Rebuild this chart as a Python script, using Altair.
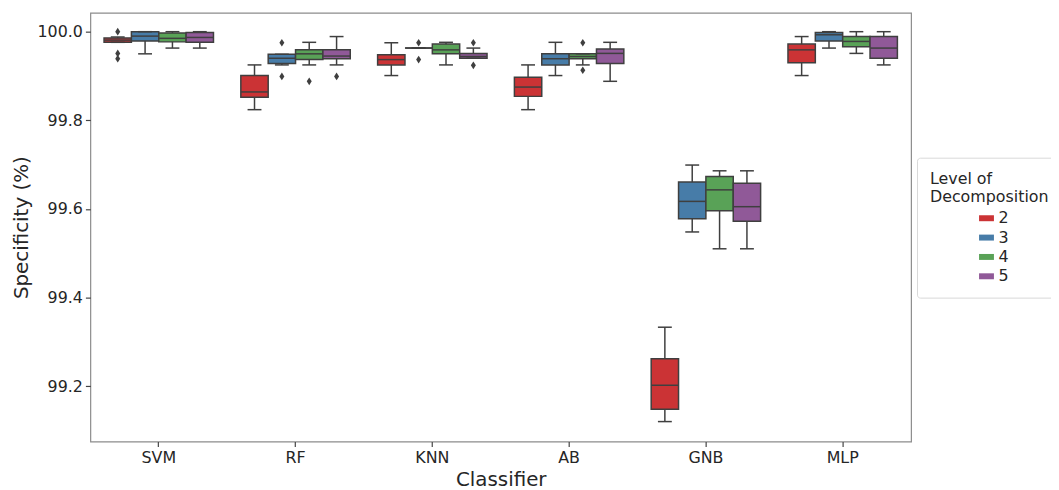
import altair as alt
import pandas as pd

classifiers = ["SVM", "RF", "KNN", "AB", "GNB", "MLP"]
levels = ["2", "3", "4", "5"]
colors = ["#cb3335", "#477ca8", "#59a257", "#905998"]

# box statistics, per classifier, levels 2..5
lower_whisker = [99.976, 99.950, 99.963, 99.963,
                 99.824, 99.925, 99.925, 99.925,
                 99.901, 99.963, 99.925, 99.940,
                 99.824, 99.901, 99.925, 99.888,
                 99.120, 99.548, 99.510, 99.510,
                 99.901, 99.963, 99.951, 99.925]
q1 = [99.976, 99.979, 99.977, 99.976,
      99.852, 99.928, 99.937, 99.939,
      99.925, 99.963, 99.950, 99.940,
      99.854, 99.925, 99.939, 99.928,
      99.148, 99.578, 99.596, 99.572,
      99.930, 99.979, 99.966, 99.940]
median = [99.981, 99.990, 99.985, 99.987,
          99.864, 99.940, 99.950, 99.945,
          99.937, 99.963, 99.959, 99.944,
          99.875, 99.939, 99.944, 99.951,
          99.202, 99.617, 99.643, 99.605,
          99.959, 99.993, 99.978, 99.963]
q3 = [99.986, 100.000, 99.997, 99.998,
      99.901, 99.949, 99.959, 99.959,
      99.948, 99.963, 99.972, 99.951,
      99.897, 99.950, 99.950, 99.961,
      99.262, 99.661, 99.673, 99.658,
      99.972, 99.998, 99.989, 99.989]
upper_whisker = [99.988, 100.000, 100.000, 100.000,
                 99.925, 99.949, 99.976, 99.989,
                 99.975, 99.963, 99.976, 99.963,
                 99.925, 99.976, 99.950, 99.976,
                 99.333, 99.699, 99.686, 99.686,
                 99.989, 100.000, 100.000, 100.000]

# outliers
out_clf = ["SVM", "SVM", "SVM", "RF", "RF", "RF", "RF", "KNN", "KNN", "KNN", "KNN", "AB", "AB"]
out_level = ["2", "2", "2", "3", "3", "4", "5", "3", "3", "5", "5", "4", "4"]
out_val = [100.000, 99.951, 99.939, 99.975, 99.899, 99.888, 99.899,
           99.975, 99.937, 99.975, 99.924, 99.975, 99.913]

clf_col = [c for c in classifiers for _ in levels]
lvl_col = [l for _ in classifiers for l in levels]
stats = pd.DataFrame({"clf": clf_col, "level": lvl_col, "lw": lower_whisker,
                      "q1": q1, "med": median, "q3": q3, "uw": upper_whisker})
outs = pd.DataFrame({"clf": out_clf, "level": out_level, "val": out_val})

EDGE = "#3f3f3f"
FONT = "DejaVu Sans"

x_enc = alt.X("clf:N", sort=classifiers,
              scale=alt.Scale(paddingInner=0.2, paddingOuter=0.1),
              axis=alt.Axis(title="Classifier", labelAngle=0))
xo_enc = alt.XOffset("level:N", sort=levels,
                     scale=alt.Scale(paddingInner=0, paddingOuter=0))
yscale = alt.Scale(domain=[99.075, 100.0426], nice=False, zero=False)
y_axis = alt.Axis(title="Specificity (%)", values=[99.2, 99.4, 99.6, 99.8, 100.0],
                  format=".1f")

base = alt.Chart(stats)

whisk = base.mark_rule(color=EDGE, strokeWidth=1.5).encode(
    x=x_enc, xOffset=xo_enc,
    y=alt.Y("lw:Q", scale=yscale, axis=y_axis), y2="uw:Q")

box = base.mark_bar(stroke=EDGE, strokeWidth=1.5, opacity=1).encode(
    x=x_enc, xOffset=xo_enc,
    y=alt.Y("q1:Q", scale=yscale), y2="q3:Q",
    color=alt.Color("level:N", sort=levels,
                    scale=alt.Scale(domain=levels, range=colors),
                    legend=alt.Legend(title=["Level of", "Decomposition"])))

med = base.mark_tick(color=EDGE, thickness=1.5, size=27, opacity=1).encode(
    x=x_enc, xOffset=xo_enc, y=alt.Y("med:Q", scale=yscale))

cap_lo = base.mark_tick(color=EDGE, thickness=1.5, size=14, opacity=1).encode(
    x=x_enc, xOffset=xo_enc, y=alt.Y("lw:Q", scale=yscale))
cap_hi = base.mark_tick(color=EDGE, thickness=1.5, size=14, opacity=1).encode(
    x=x_enc, xOffset=xo_enc, y=alt.Y("uw:Q", scale=yscale))

pts = alt.Chart(outs).mark_point(
    shape="M0,-1L0.65,0L0,1L-0.65,0Z", filled=True, color=EDGE, size=60, opacity=1
).encode(x=x_enc, xOffset=xo_enc, y=alt.Y("val:Q", scale=yscale))

chart = alt.layer(whisk, box, med, cap_lo, cap_hi, pts).properties(
    width=827, height=432,
    autosize=alt.AutoSizeParams(type="none"),
    padding={"left": 83, "top": 3, "right": 141, "bottom": 47},
).configure_view(
    stroke="#8c8c8c", strokeWidth=1.2
).configure_axis(
    grid=False, domain=False, labelFont=FONT, titleFont=FONT,
    labelFontSize=16, titleFontSize=20, labelColor="#262626", titleColor="#262626",
    titleFontWeight="normal", tickColor="#444444", tickSize=5, tickWidth=1.2,
).configure_axisX(
    labelPadding=3, titlePadding=4
).configure_axisY(
    labelPadding=3, titlePadding=6
).configure_legend(
    orient="none", legendX=833, legendY=146,
    titleFont=FONT, labelFont=FONT, titleFontSize=16, labelFontSize=16,
    titleFontWeight="normal", titleColor="#262626", labelColor="#262626",
    titleLineHeight=19, titlePadding=5,
    symbolType="M-1,-0.4L1,-0.4L1,0.4L-1,0.4Z", symbolSize=225,
    symbolStrokeWidth=0, symbolOffset=49, rowPadding=3.5,
    strokeColor="#d9d9d9", fillColor="white", padding=13, cornerRadius=3,
)

chart.save("out.html", embed_options={"renderer": "svg", "actions": False})
